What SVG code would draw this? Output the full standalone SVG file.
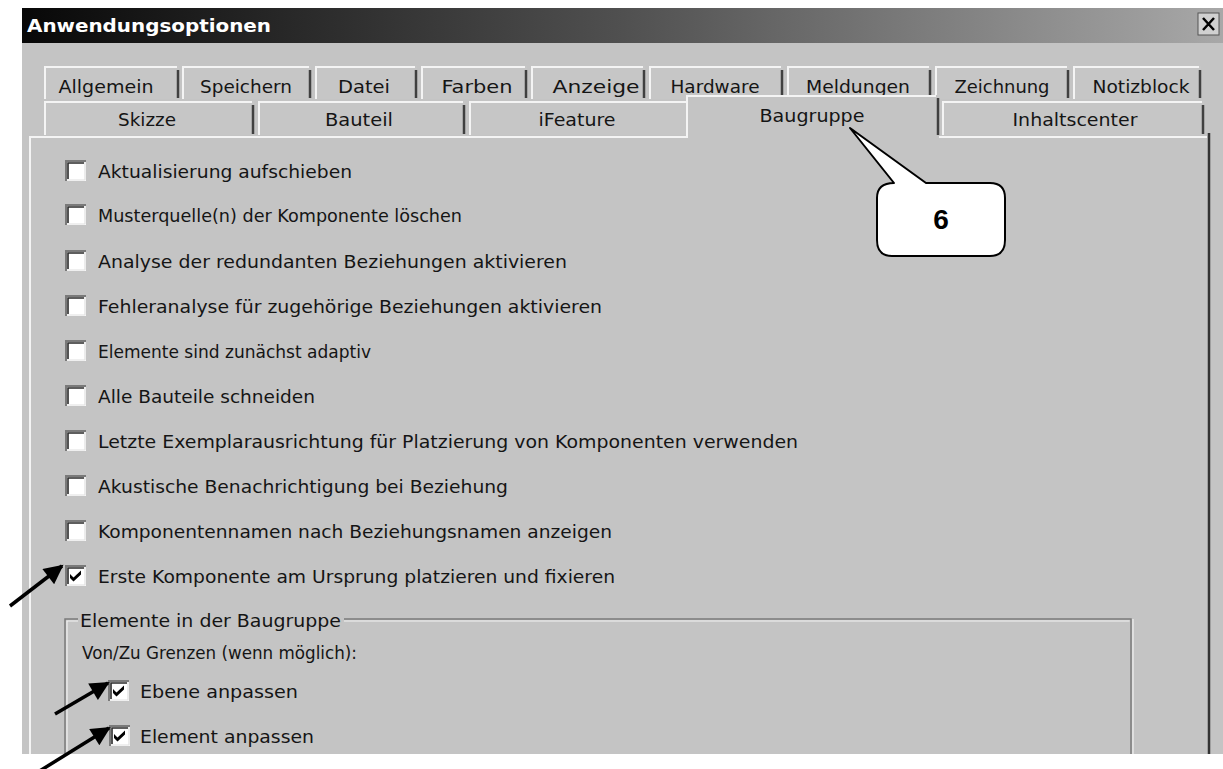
<svg xmlns="http://www.w3.org/2000/svg" width="1223" height="769" viewBox="0 0 1223 769">
<defs>
<linearGradient id="tg" x1="0" y1="0" x2="1" y2="0">
<stop offset="0" stop-color="#080808"/>
<stop offset="0.5" stop-color="#505050"/>
<stop offset="1" stop-color="#a8a8a8"/>
</linearGradient>
<marker id="ah" viewBox="0 0 10 10" refX="9" refY="5" markerWidth="6" markerHeight="5.5" orient="auto" markerUnits="strokeWidth">
<path d="M0,0 L10,5 L0,10 z" fill="#000"/>
</marker>
<g id="cb">
<rect x="0" y="0" width="21" height="21" fill="#fff"/>
<path d="M1,21 V1 H21" fill="none" stroke="#7a7a7a" stroke-width="2"/>
<path d="M3,19 V3 H19" fill="none" stroke="#2a2a2a" stroke-width="1.6"/>
<path d="M2,20 H20 V2" fill="none" stroke="#e0e0e0" stroke-width="1.2"/>
</g>
<g id="cbc">
<use href="#cb"/>
<path d="M5,9 L8.5,12.5 L16,5.5 L16,9.5 L8.5,16.5 L5,13 z" fill="#000"/>
</g>
</defs>
<style>
text{font-family:"DejaVu Sans","Liberation Sans",Arial,sans-serif;fill:#151515}
.t{font-size:18px}
.tab{font-size:18px;text-anchor:middle}
.tabr{fill:#c6c6c6;stroke:none}
.hl{stroke:#f4f4f4;stroke-width:2;fill:none}
.sh{stroke:#404040;stroke-width:2.5;fill:none}
</style>
<rect width="1223" height="769" fill="#fff"/>
<g id="window">
<rect x="22" y="43" width="1201" height="711" fill="#c4c4c4"/>
<rect x="22" y="8" width="1201" height="35" fill="url(#tg)"/>
<text x="27" y="32" style="font-size:18px;font-weight:bold;fill:#fff" textLength="244" lengthAdjust="spacingAndGlyphs">Anwendungsoptionen</text>
<g id="close">
<rect x="1198" y="13" width="21" height="22" fill="#d0d0d0" stroke="#555" stroke-width="1"/>
<path d="M1203,18 L1214,30 M1214,18 L1203,30" stroke="#000" stroke-width="2.5"/>
</g>
</g>
<g id="tabs1">
<g id="tab-allgemein"><rect class="tabr" x="44" y="66" width="135" height="33"/><path class="hl" d="M45,99 V67 H177"/><path class="sh" d="M178,70 V98"/><text class="tab" x="106" y="93" textLength="95" lengthAdjust="spacingAndGlyphs">Allgemein</text></g>
<g id="tab-speichern"><rect class="tabr" x="182" y="66" width="129" height="33"/><path class="hl" d="M183,99 V67 H309"/><path class="sh" d="M310,70 V98"/><text class="tab" x="246" y="93" textLength="92" lengthAdjust="spacingAndGlyphs">Speichern</text></g>
<g id="tab-datei"><rect class="tabr" x="315" y="66" width="102" height="33"/><path class="hl" d="M316,99 V67 H415"/><path class="sh" d="M416,70 V98"/><text class="tab" x="364" y="93" textLength="52" lengthAdjust="spacingAndGlyphs">Datei</text></g>
<g id="tab-farben"><rect class="tabr" x="421" y="66" width="106" height="33"/><path class="hl" d="M422,99 V67 H525"/><path class="sh" d="M526,70 V98"/><text class="tab" x="477" y="93" textLength="71" lengthAdjust="spacingAndGlyphs">Farben</text></g>
<g id="tab-anzeige"><rect class="tabr" x="531" y="66" width="114" height="33"/><path class="hl" d="M532,99 V67 H643"/><path class="sh" d="M644,70 V98"/><text class="tab" x="596" y="93" textLength="87" lengthAdjust="spacingAndGlyphs">Anzeige</text></g>
<g id="tab-hardware"><rect class="tabr" x="649" y="66" width="134" height="33"/><path class="hl" d="M650,99 V67 H781"/><path class="sh" d="M782,70 V98"/><text class="tab" x="715" y="93" textLength="89" lengthAdjust="spacingAndGlyphs">Hardware</text></g>
<g id="tab-meldungen"><rect class="tabr" x="787" y="66" width="144" height="33"/><path class="hl" d="M788,99 V67 H929"/><path class="sh" d="M930,70 V98"/><text class="tab" x="858" y="93" textLength="104" lengthAdjust="spacingAndGlyphs">Meldungen</text></g>
<g id="tab-zeichnung"><rect class="tabr" x="935" y="66" width="134" height="33"/><path class="hl" d="M936,99 V67 H1067"/><path class="sh" d="M1068,70 V98"/><text class="tab" x="1002" y="93" textLength="95" lengthAdjust="spacingAndGlyphs">Zeichnung</text></g>
<g id="tab-notizblock"><rect class="tabr" x="1073" y="66" width="128" height="33"/><path class="hl" d="M1074,99 V67 H1199"/><path class="sh" d="M1200,70 V98"/><text class="tab" x="1141" y="93" textLength="97" lengthAdjust="spacingAndGlyphs">Notizblock</text></g>
</g>
<g id="tabs2">
<g id="tab-skizze"><rect class="tabr" x="44" y="101" width="210" height="34"/><path class="hl" d="M45,135 V102 H252"/><path class="sh" d="M253,105 V134"/><text class="tab" x="147" y="126" textLength="58" lengthAdjust="spacingAndGlyphs">Skizze</text></g>
<g id="tab-bauteil"><rect class="tabr" x="258" y="101" width="207" height="34"/><path class="hl" d="M259,135 V102 H463"/><path class="sh" d="M464,105 V134"/><text class="tab" x="359" y="126" textLength="68" lengthAdjust="spacingAndGlyphs">Bauteil</text></g>
<g id="tab-ifeature"><rect class="tabr" x="469" y="101" width="217" height="34"/><path class="hl" d="M470,135 V102 H686"/><text class="tab" x="577" y="126" textLength="77" lengthAdjust="spacingAndGlyphs">iFeature</text></g>
<g id="tab-inhaltscenter"><rect class="tabr" x="942" y="101" width="262" height="34"/><path class="hl" d="M943,135 V102 H1202"/><path class="sh" d="M1203,105 V134"/><text class="tab" x="1075" y="126" textLength="125" lengthAdjust="spacingAndGlyphs">Inhaltscenter</text></g>
</g>
<g id="panel">
<path d="M30,754 V137 H686" class="hl"/>
<path d="M939,137 H1207" class="hl"/>
<path d="M1209,133 V754" stroke="#333" stroke-width="2.5" fill="none"/>
</g>
<g id="tab-baugruppe">
<rect x="686" y="95" width="252" height="44" fill="#c4c4c4"/>
<path class="hl" d="M687,138 V96 H936"/>
<path class="sh" d="M938,98 V135"/>
<text class="tab" x="812" y="122" textLength="105" lengthAdjust="spacingAndGlyphs">Baugruppe</text>
</g>
<g id="opt1"><use href="#cb" x="65" y="160"/><text class="t" x="98" y="178" textLength="254" lengthAdjust="spacingAndGlyphs">Aktualisierung aufschieben</text></g>
<g id="opt2"><use href="#cb" x="65" y="204"/><text class="t" x="98" y="222" textLength="364" lengthAdjust="spacingAndGlyphs">Musterquelle(n) der Komponente löschen</text></g>
<g id="opt3"><use href="#cb" x="65" y="250"/><text class="t" x="98" y="268" textLength="469" lengthAdjust="spacingAndGlyphs">Analyse der redundanten Beziehungen aktivieren</text></g>
<g id="opt4"><use href="#cb" x="65" y="295"/><text class="t" x="98" y="313" textLength="504" lengthAdjust="spacingAndGlyphs">Fehleranalyse für zugehörige Beziehungen aktivieren</text></g>
<g id="opt5"><use href="#cb" x="65" y="340"/><text class="t" x="98" y="358" textLength="273" lengthAdjust="spacingAndGlyphs">Elemente sind zunächst adaptiv</text></g>
<g id="opt6"><use href="#cb" x="65" y="385"/><text class="t" x="98" y="403" textLength="217" lengthAdjust="spacingAndGlyphs">Alle Bauteile schneiden</text></g>
<g id="opt7"><use href="#cb" x="65" y="430"/><text class="t" x="98" y="448" textLength="700" lengthAdjust="spacingAndGlyphs">Letzte Exemplarausrichtung für Platzierung von Komponenten verwenden</text></g>
<g id="opt8"><use href="#cb" x="65" y="475"/><text class="t" x="98" y="493" textLength="410" lengthAdjust="spacingAndGlyphs">Akustische Benachrichtigung bei Beziehung</text></g>
<g id="opt9"><use href="#cb" x="65" y="520"/><text class="t" x="98" y="538" textLength="514" lengthAdjust="spacingAndGlyphs">Komponentennamen nach Beziehungsnamen anzeigen</text></g>
<g id="opt10"><use href="#cbc" x="65" y="565"/><text class="t" x="98" y="583" textLength="517" lengthAdjust="spacingAndGlyphs">Erste Komponente am Ursprung platzieren und fixieren</text></g>
<g id="groupbox">
<path d="M78,619 H65 V754 M344,619 H1131 V754" fill="none" stroke="#7a7a7a" stroke-width="1.5"/>
<path d="M78,621 H67 V754 M344,621 H1129.5 M1133,619 V754" fill="none" stroke="#f2f2f2" stroke-width="1.2"/>
<text class="t" x="80" y="627" textLength="261" lengthAdjust="spacingAndGlyphs">Elemente in der Baugruppe</text>
<text class="t" x="82" y="659" textLength="275" lengthAdjust="spacingAndGlyphs">Von/Zu Grenzen (wenn möglich):</text>
</g>
<g id="opt11"><use href="#cbc" x="108" y="680"/><text class="t" x="140" y="698" textLength="158" lengthAdjust="spacingAndGlyphs">Ebene anpassen</text></g>
<g id="opt12"><use href="#cbc" x="109" y="725"/><text class="t" x="140" y="743" textLength="174" lengthAdjust="spacingAndGlyphs">Element anpassen</text></g>
<g id="callout">
<path d="M894,183 L850,128 L926,183 H990 Q1005,183 1005,198 V240 Q1005,256 990,256 H892 Q877,256 877,240 V198 Q877,183 894,183 Z" fill="#fff" stroke="#000" stroke-width="2" stroke-linejoin="round"/>
<text x="941" y="229" style="font-family:'Liberation Sans',Arial,sans-serif;font-size:28px;font-weight:bold;text-anchor:middle;fill:#000">6</text>
</g>
<g id="connectors" stroke="#000" stroke-width="3.5" fill="none">
<line x1="10" y1="606" x2="62" y2="566" marker-end="url(#ah)"/>
<line x1="55" y1="714" x2="108" y2="683" marker-end="url(#ah)"/>
<line x1="38" y1="772" x2="109" y2="728" marker-end="url(#ah)"/>
</g>
</svg>
